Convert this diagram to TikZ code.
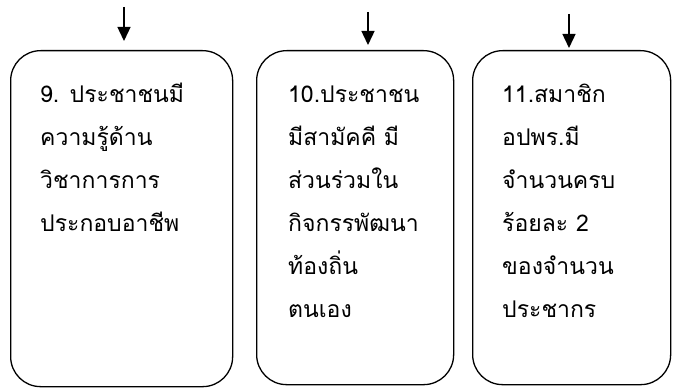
\documentclass[tikz,border=0pt]{standalone}
\usepackage{fontspec}
\newfontfamily\thaifont[Script=Thai]{Loma}
\usetikzlibrary{arrows.meta}
\tikzset{
  box/.style={draw, line width=1.3pt, rounded corners=30pt, inner sep=0pt, anchor=north west},
  txt/.style={anchor=base west, inner sep=0pt, font=\thaifont\fontsize{23}{43}\selectfont},
  arr/.style={line width=1.4pt, -{Triangle[length=14pt,width=13pt]}}
}
\begin{document}
\begin{tikzpicture}[x=1pt,y=-1pt]
\useasboundingbox (0,0) rectangle (675,390);
\node[box, minimum width=222pt, minimum height=336pt] (b1) at (10,50) {};
\node[box, minimum width=197pt, minimum height=334pt] (b2) at (256,50) {};
\node[box, minimum width=198pt, minimum height=334pt] (b3) at (472,50) {};
\node[txt] (t1) at (40,103) {\parbox[t]{180pt}{\raggedright 9. ประชาชนมี\\ความรู้ด้าน\\วิชาการการ\\ประกอบอาชีพ}};
\node[txt] (t2) at (288,103) {\parbox[t]{170pt}{\raggedright 10.ประชาชน\\มีสามัคคี มี\\ส่วนร่วมใน\\กิจกรรพัฒนา\\ท้องถิ่น\\ตนเอง}};
\node[txt] (t3) at (502,103) {\parbox[t]{170pt}{\raggedright 11.สมาชิก\\อปพร.มี\\จำนวนครบ\\ร้อยละ 2\\ของจำนวน\\ประชากร}};
\coordinate (a1) at (124,7);
\coordinate (a2) at (368,12);
\coordinate (a3) at (569,14);
\draw[arr, shorten >=9pt] (a1) -- (a1 |- b1.north);
\draw[arr, shorten >=5pt] (a2) -- (a2 |- b2.north);
\draw[arr, shorten >=2pt] (a3) -- (a3 |- b3.north);
\end{tikzpicture}
\end{document}
